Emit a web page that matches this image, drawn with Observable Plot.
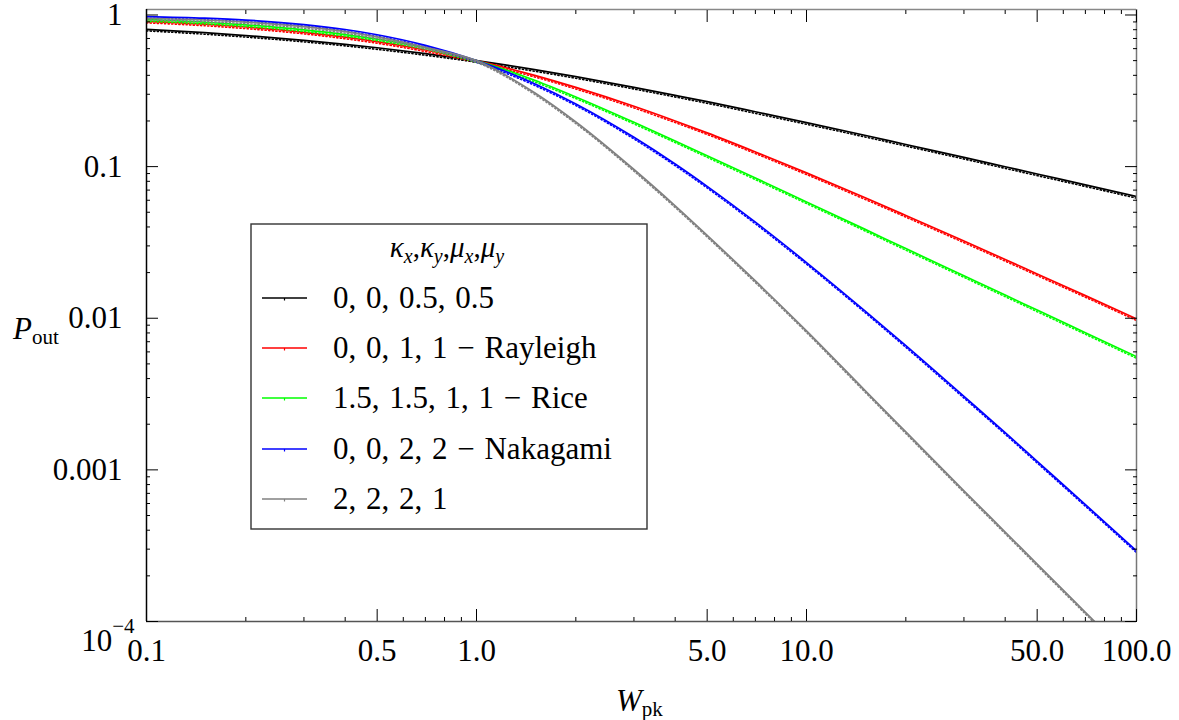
<!DOCTYPE html>
<html><head><meta charset="utf-8">
<script src="https://cdn.jsdelivr.net/npm/d3@7"></script>
<script src="https://cdn.jsdelivr.net/npm/@observablehq/plot@0.6"></script>
<style>body{margin:0;background:#fff} svg{display:block}</style>
</head><body><div id="chart"></div>
<script>
// ---- data ----
const wpk = [0.1,0.15,0.2,0.3,0.4,0.5,0.7,1,1.5,2,3,4,5,7,10,15,20,30,40,50,70,100];
const pBlack = [0.805,0.765,0.732,0.681,0.641,0.608,0.556,0.5,0.436,0.392,0.333,0.295,0.268,0.230,0.195,0.161,0.140,0.115,0.0998,0.0894,0.0758,0.0635];
const pRed   = [0.909,0.870,0.833,0.769,0.714,0.667,0.588,0.5,0.400,0.333,0.250,0.200,0.167,0.125,0.0909,0.0625,0.0476,0.0323,0.0244,0.0196,0.0141,0.0099];
const pGreen = [0.932,0.896,0.861,0.798,0.743,0.694,0.609,0.5,0.371,0.288,0.196,0.1476,0.118,0.0841,0.0585,0.0387,0.0288,0.01906,0.01422,0.01132,0.00803,0.00558];
const pBlue  = [0.977,0.953,0.926,0.865,0.802,0.741,0.631,0.5,0.352,0.259,0.156,0.104,0.0741,0.0430,0.0233,0.01123,0.00659,0.00305,0.00176,0.001138,0.00059,0.000292];
const pGray  = [0.952,0.927,0.898,0.838,0.777,0.717,0.612,0.5,0.307,0.197,0.0957,0.0551,0.0352,0.01762,0.00826,0.00336,0.00178,0.000728,0.000389,0.000239,0.000115,0.000053];
const seriesNames  = ["0, 0, 0.5, 0.5", "0, 0, 1, 1 \u2212 Rayleigh", "1.5, 1.5, 1, 1 \u2212 Rice", "0, 0, 2, 2 \u2212 Nakagami", "2, 2, 2, 1"];
const seriesColors = ["#000000", "#ff0000", "#00ff00", "#0000ff", "#808080"];
const seriesValues = [pBlack, pRed, pGreen, pBlue, pGray];
const xMajor = [0.1, 0.5, 1, 5, 10, 50, 100];
const xMajorLabels = ["0.1", "0.5", "1.0", "5.0", "10.0", "50.0", "100.0"];
const xMinor = [0.2,0.3,0.4,0.6,0.7,0.8,0.9,2,3,4,6,7,8,9,20,30,40,60,70,80,90];
const yMajor = [1, 0.1, 0.01, 0.001, 0.0001];
const yMajorLabels = ["1", "0.1", "0.01", "0.001", "10"];
const yMinor = [];
[0.0001, 0.001, 0.01, 0.1].forEach(d => { for (let k = 2; k <= 9; k++) yMinor.push(+(d * k).toPrecision(3)); });

const table = seriesNames.map((name, i) => wpk.map((w, j) => ({W: w, P: seriesValues[i][j], series: name})));

const font = "'Liberation Serif', 'Times New Roman', serif";
const marks = [];
// curves: line + simulated markers
table.forEach((rows, i) => {
  marks.push(Plot.line(rows, {x: "W", y: "P", stroke: seriesColors[i], strokeWidth: 1.7, clip: true, curve: "monotone-x"}));
  marks.push(Plot.line(rows, {x: "W", y: "P", stroke: seriesColors[i], strokeWidth: 1.6, dy: 1.6, strokeDasharray: "1.2 2.4", clip: true, curve: "monotone-x"}));
});
// frame
marks.push(Plot.ruleY([1.087], {stroke: "#888", strokeWidth: 1.5}));
marks.push(Plot.ruleX([100], {stroke: "#777", strokeWidth: 1.5}));
marks.push(Plot.ruleY([0.0001], {stroke: "#555", strokeWidth: 1.5}));
marks.push(Plot.ruleX([0.1], {stroke: "#000", strokeWidth: 1.5}));
// ticks (inward)
for (const a of ["bottom", "top"]) {
  marks.push(Plot.axisX(xMajor, {anchor: a, tickSize: -12, fill: "none", stroke: "#000", label: null}));
  marks.push(Plot.axisX(xMinor, {anchor: a, tickSize: -4, fill: "none", stroke: "#000", label: null}));
}
for (const a of ["left", "right"]) {
  marks.push(Plot.axisY(yMajor, {anchor: a, tickSize: -12, fill: "none", stroke: "#000", label: null}));
  marks.push(Plot.axisY(yMinor, {anchor: a, tickSize: -4, fill: "none", stroke: "#000", label: null}));
}
// tick labels
marks.push(Plot.text(xMajor, {x: d => d, frameAnchor: "bottom", dy: 17, lineAnchor: "top", text: (d, i) => xMajorLabels[i], fontSize: 31, fill: "#000"}));
marks.push(Plot.text(yMajor, {y: d => d, frameAnchor: "left", dx: -24, textAnchor: "end", text: (d, i) => yMajorLabels[i], fontSize: 31, fill: "#000"}));

const chart = Plot.plot({
  width: 1179, height: 720,
  marginLeft: 146, marginRight: 43, marginTop: 9, marginBottom: 99,
  style: {fontFamily: font, fontSize: "31px", color: "#000", background: "#fff"},
  x: {type: "log", domain: [0.1, 100], label: null},
  y: {type: "log", domain: [0.0001, 1.087], label: null},
  marks
});
document.getElementById("chart").appendChild(chart);

const svg = d3.select(chart);
// 10^-4 label superscript
svg.selectAll("text").filter(function() { return this.textContent === "10"; }).each(function() {
  const t = d3.select(this);
  const x0 = +t.attr("x") || 0;
  t.attr("x", x0 + 12);
  t.attr("dy", "0.62em");
  t.append("tspan").attr("font-size", "21px").attr("dy", "-0.85em").text("\u22124");
});
// axis titles
const yt = svg.append("text").attr("x", 13).attr("y", 339).attr("text-anchor", "start").attr("font-family", font).attr("fill", "#000");
yt.append("tspan").attr("font-style", "italic").attr("font-size", "31px").text("P");
yt.append("tspan").attr("font-size", "21px").attr("dy", 5).text("out");
const xt = svg.append("text").attr("x", 616).attr("y", 711).attr("text-anchor", "start").attr("font-family", font).attr("fill", "#000");
xt.append("tspan").attr("font-style", "italic").attr("font-size", "31px").text("W");
xt.append("tspan").attr("font-size", "21px").attr("dy", 5).text("pk");

// legend
const lg = svg.append("g").attr("font-family", font).attr("text-anchor", "start");
lg.append("rect").attr("x", 251).attr("y", 224).attr("width", 396).attr("height", 305)
  .attr("fill", "#fff").attr("stroke", "#333").attr("stroke-width", 1.4);
const lt = lg.append("text").attr("x", 447).attr("y", 257).attr("text-anchor", "middle").attr("font-size", "29px").attr("fill", "#000");
[["\u03ba","x"],["\u03ba","y"],["\u03bc","x"],["\u03bc","y"]].forEach(([g, s], i) => {
  if (i > 0) lt.append("tspan").attr("dy", -6).text(",");
  lt.append("tspan").attr("font-style", "italic").text(g);
  lt.append("tspan").attr("font-style", "italic").attr("font-size", "20px").attr("dy", 6).text(s);
});
const rowY = [298, 348, 398, 449, 499];
seriesNames.forEach((name, i) => {
  const y = rowY[i];
  lg.append("line").attr("x1", 262).attr("x2", 307).attr("y1", y).attr("y2", y).attr("stroke", seriesColors[i]).attr("stroke-width", 1.6);
  lg.append("line").attr("x1", 284.5).attr("x2", 284.5).attr("y1", y).attr("y2", y + 2.5).attr("stroke", seriesColors[i]).attr("stroke-width", 1.2);
  lg.append("text").attr("x", 333).attr("y", y).attr("dy", "0.33em").attr("font-size", "31px").attr("word-spacing", "2px").attr("fill", "#000").text(name);
});
</script>
</body></html>
